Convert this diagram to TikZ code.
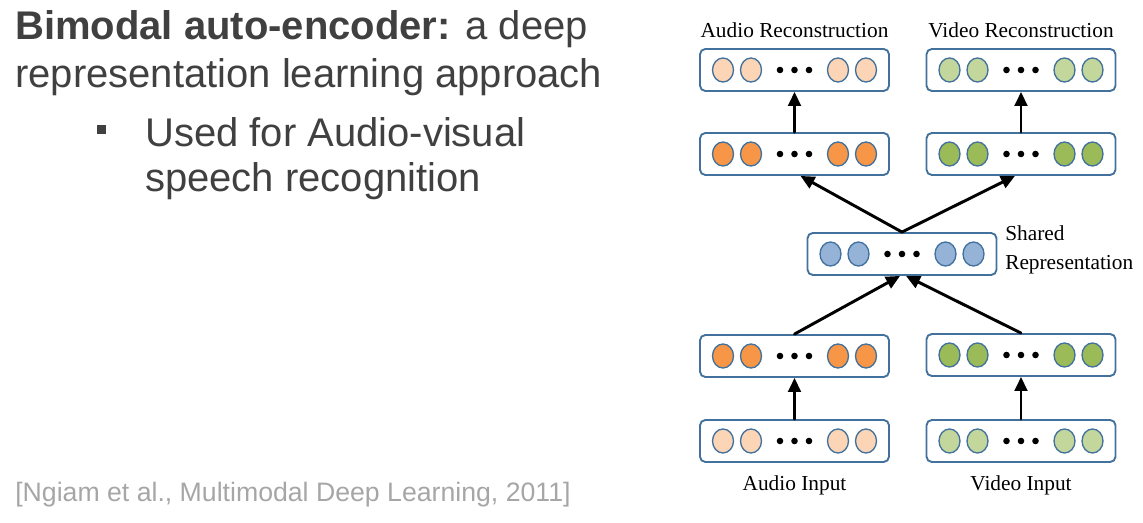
\documentclass[tikz,border=0pt]{standalone}
\usepackage{fontspec}
\usepackage[usenames]{xcolor}
\usepackage{tikz}
\usetikzlibrary{arrows.meta}
\newfontfamily\slidefont{Liberation Sans}
\newfontfamily\figfont{Liberation Serif}
\definecolor{boxblue}{HTML}{41719C}
\definecolor{auddark}{HTML}{F79646}
\definecolor{audlight}{HTML}{FBD5B5}
\definecolor{viddark}{HTML}{9BBB59}
\definecolor{vidlight}{HTML}{C3D69B}
\definecolor{shblue}{HTML}{95B3D7}
\definecolor{slidegray}{HTML}{404040}
\definecolor{citegray}{HTML}{A6A6A6}
\begin{document}
\begin{tikzpicture}[line cap=round,line join=round,>={Triangle[length=10.5pt,width=9.5pt]},x=0.75pt,y=-0.75pt,
  layerbox/.style={draw=boxblue,line width=1.4pt,rounded corners=4pt,minimum width=141.75pt,minimum height=31.5pt,inner sep=0pt},
  unit/.style={draw=boxblue,line width=1pt},
  link/.style={->,line width=2.2pt},
  slide/.style={anchor=base west,inner sep=0pt,text=slidegray,font=\slidefont\fontsize{30}{36}\selectfont},
  caption/.style={inner sep=0pt,font=\figfont\fontsize{16}{21.5}\selectfont}]
\useasboundingbox (0,0) rectangle (1143,523);
% slide text
\node[slide] (title) at (15,40) {\textbf{Bimodal auto-encoder:} a deep};
\node[slide] (title2) at (15,88) {representation learning approach};
\fill[slidegray] (97,125) rectangle (106,134);
\node[slide] (item) at (145,147) {Used for Audio-visual};
\node[slide] (item2) at (145,192) {speech recognition};
\node[slide,text=citegray,font=\slidefont\fontsize{20}{24}\selectfont] (cite) at (15,502) {[Ngiam et al., Multimodal Deep Learning, 2011]};
% layers
\foreach \nm/\cx/\cy/\col in {ar/794.5/70/audlight, ah/794.5/154/auddark, vr/1021/70/vidlight, vh/1021/154/viddark,
  sh/902/254/shblue, ab/794.5/356/auddark, vb/1021/355/viddark, ai/794.5/441/audlight, vi/1021/441/vidlight} {
  \node[layerbox] (\nm) at (\cx,\cy) {};
  \foreach \dx in {-71.5,-43.5,43.5,71.5}
    \draw[unit,fill=\col] (\cx+\dx,\cy) ellipse (10.5 and 12);
  \foreach \dx in {-14.5,0,14.5}
    \fill (\cx+\dx,\cy) circle (3.3);
}
% labels
\node[caption,anchor=base] (arl) at (794.5,38) {Audio Reconstruction};
\node[caption,anchor=base] (vrl) at (1021,38) {Video Reconstruction};
\node[caption,anchor=west,align=left] (shl) at (1005,250) {Shared\\Representation};
\node[caption,anchor=base] (ail) at (794.5,491) {Audio Input};
\node[caption,anchor=base] (vil) at (1021,491) {Video Input};
% connections
\draw[link] (ai.north) -- (ab.south);
\draw[link] (vi.north) -- (vb.south);
\draw[link] (ab.north) -- ([xshift=-1.5pt]sh.south);
\draw[link] (vb.north) -- ([xshift=3pt]sh.south);
\draw[link] (sh.north) -- ([xshift=4.5pt]ah.south);
\draw[link] (sh.north) -- ([xshift=-4.5pt]vh.south);
\draw[link] (ah.north) -- (ar.south);
\draw[link] (vh.north) -- (vr.south);
\end{tikzpicture}
\end{document}
